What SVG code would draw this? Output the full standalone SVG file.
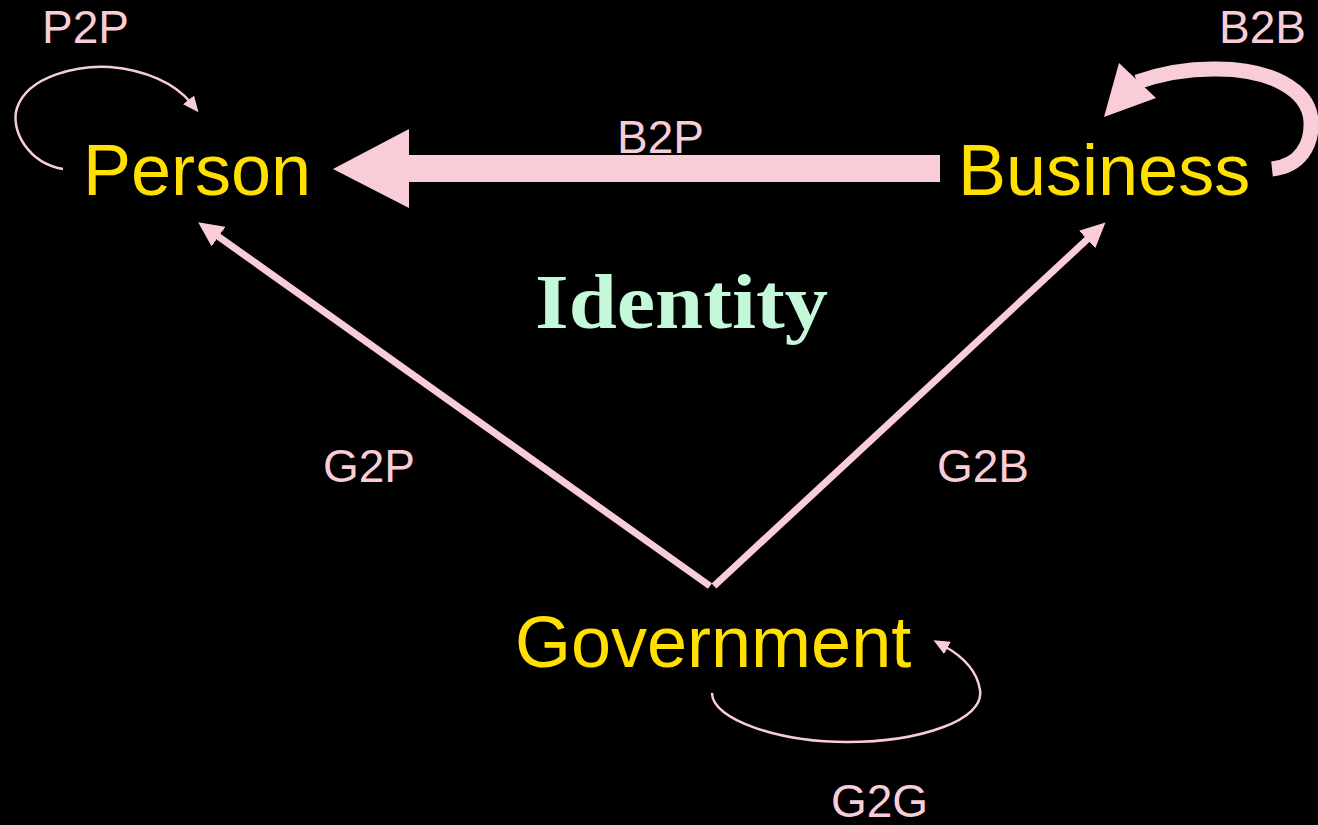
<svg xmlns="http://www.w3.org/2000/svg" width="1318" height="825" viewBox="0 0 1318 825">
<style>
.node{font-family:"Liberation Sans",Arial,sans-serif;font-size:72px;fill:#FFE000}
.lbl{font-family:"Liberation Sans",Arial,sans-serif;font-size:46px;fill:#F9CDD7}
.title{font-family:"Liberation Serif","Times New Roman",serif;font-weight:bold;font-size:78px;fill:#C3F9D9}
.thin{fill:none;stroke:#F9CDD7;stroke-width:2.5}
.mid{fill:none;stroke:#F9CDD7;stroke-width:7}
.thick{fill:none;stroke:#F9CDD7;stroke-width:15}
.head{fill:#F9CDD7}
</style>
<defs>
<marker id="hmid" markerUnits="userSpaceOnUse" viewBox="0 0 25 24" markerWidth="25" markerHeight="24" refX="8" refY="12" orient="auto">
<path class="head" d="M0,0 L25,12 L0,24 z"/>
</marker>
<marker id="hthin" markerUnits="userSpaceOnUse" viewBox="0 0 16 14" markerWidth="16" markerHeight="14" refX="4" refY="7" orient="auto">
<path class="head" d="M0,0 L16,7 L0,14 z"/>
</marker>
</defs>
<rect x="0" y="0" width="1318" height="825" fill="#000"/>
<g id="connectors">
<g id="b2p">
<polygon class="head" points="940,155 409,155 409,129 333,169 409,208 409,182 940,182"/>
<text class="lbl" x="617" y="153">B2P</text>
</g>
<g id="g2p">
<line class="mid" x1="710" y1="586" x2="212" y2="232" marker-end="url(#hmid)"/>
<text class="lbl" x="323" y="482">G2P</text>
</g>
<g id="g2b">
<line class="mid" x1="714" y1="586" x2="1093" y2="234" marker-end="url(#hmid)"/>
<text class="lbl" x="937" y="482">G2B</text>
</g>
<g id="p2p">
<path class="thin" d="M63,169 C28,163 10,130 17,108 C28,75 80,65 110,67 C145,70 175,83 191,103" marker-end="url(#hthin)"/>
<text class="lbl" x="42" y="43">P2P</text>
</g>
<g id="b2b">
<path class="thick" d="M1272,169 C1300,166 1312,145 1311,122 C1310,90 1270,68 1213,69 C1185,69 1160,74 1137,82"/>
<polygon class="head" points="1104,117 1119,63 1156,98"/>
<text class="lbl" x="1219" y="43">B2B</text>
</g>
<g id="g2g">
<path class="thin" d="M712,693 C712,720 780,742 847,742 C920,742 985,720 980,690 C977,670 962,656 944,646" marker-end="url(#hthin)"/>
<text class="lbl" x="831" y="817">G2G</text>
</g>
</g>
<g id="person"><text class="node" x="83" y="195">Person</text></g>
<g id="business"><text class="node" x="958" y="195">Business</text></g>
<g id="government"><text class="node" x="515" y="667">Government</text></g>
<g id="identity"><text class="title" x="535" y="328" textLength="293" lengthAdjust="spacingAndGlyphs">Identity</text></g>
</svg>
